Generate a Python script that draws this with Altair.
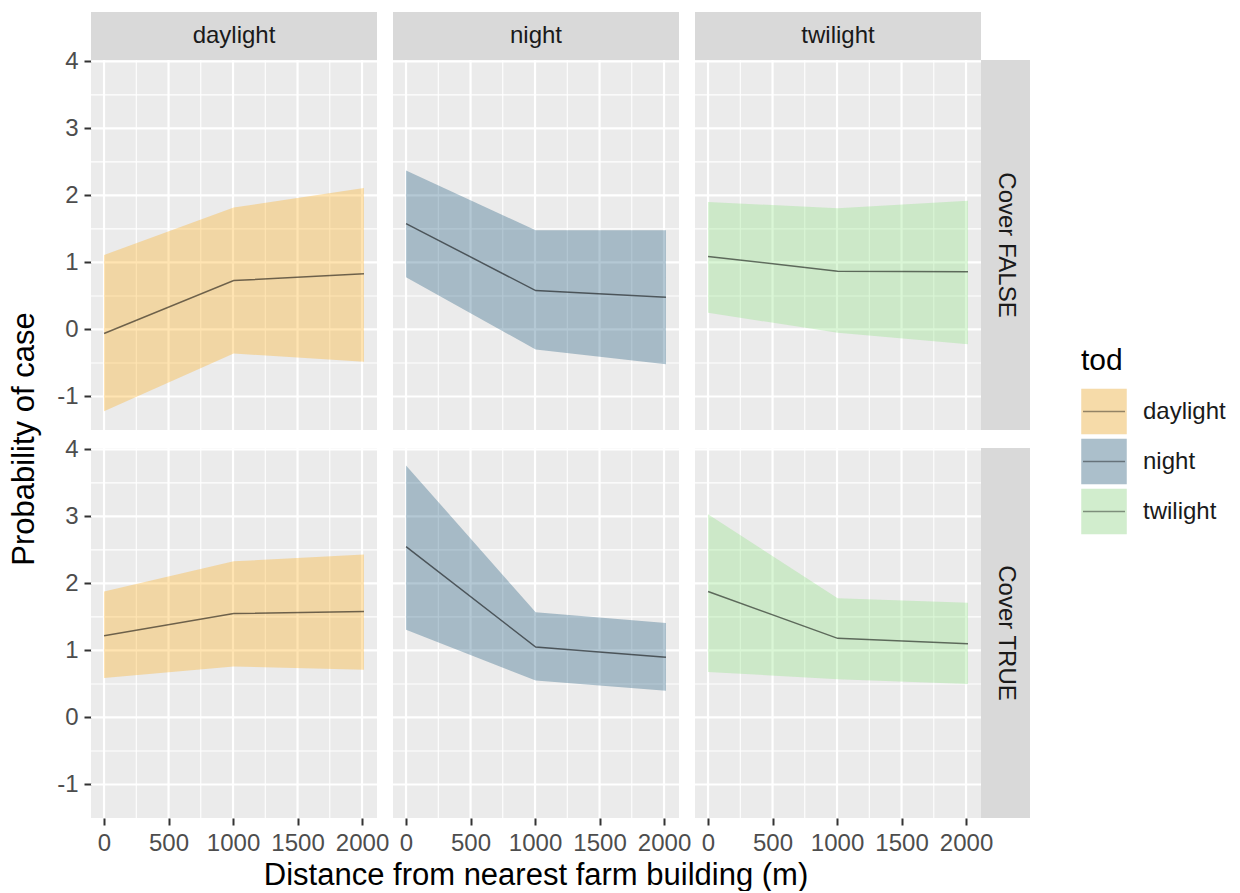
import altair as alt
import pandas as pd

FONT = "Liberation Sans"

tods = ["daylight", "night", "twilight"]
covers = ["FALSE", "TRUE"]
cover_labels = ["Cover FALSE", "Cover TRUE"]
distance = [0, 1005, 2015]

# Cover FALSE
fit_F_daylight = [-0.06, 0.73, 0.83]
low_F_daylight = [-1.22, -0.36, -0.48]
upp_F_daylight = [1.11, 1.82, 2.11]
fit_F_night = [1.58, 0.58, 0.48]
low_F_night = [0.78, -0.30, -0.52]
upp_F_night = [2.37, 1.48, 1.48]
fit_F_twilight = [1.09, 0.87, 0.86]
low_F_twilight = [0.25, -0.05, -0.22]
upp_F_twilight = [1.90, 1.81, 1.92]
# Cover TRUE
fit_T_daylight = [1.22, 1.55, 1.58]
low_T_daylight = [0.59, 0.76, 0.71]
upp_T_daylight = [1.88, 2.33, 2.43]
fit_T_night = [2.55, 1.05, 0.90]
low_T_night = [1.31, 0.55, 0.40]
upp_T_night = [3.76, 1.57, 1.41]
fit_T_twilight = [1.88, 1.18, 1.10]
low_T_twilight = [0.68, 0.57, 0.50]
upp_T_twilight = [3.03, 1.78, 1.71]

x_ticks = [0, 500, 1000, 1500, 2000]
x_minor = [250, 750, 1250, 1750]
y_ticks = [-1, 0, 1, 2, 3, 4]
y_minor = [-0.5, 0.5, 1.5, 2.5, 3.5]
x_domain = [-101, 2116]
y_domain = [-1.5, 4.02]

fill_colors = ["#FFA500", "#054870", "#84E176"]

series = {
    ("FALSE", "daylight"): (fit_F_daylight, low_F_daylight, upp_F_daylight),
    ("FALSE", "night"): (fit_F_night, low_F_night, upp_F_night),
    ("FALSE", "twilight"): (fit_F_twilight, low_F_twilight, upp_F_twilight),
    ("TRUE", "daylight"): (fit_T_daylight, low_T_daylight, upp_T_daylight),
    ("TRUE", "night"): (fit_T_night, low_T_night, upp_T_night),
    ("TRUE", "twilight"): (fit_T_twilight, low_T_twilight, upp_T_twilight),
}
rows = []
for (cv, td), (f, lo, up) in series.items():
    for i, xv in enumerate(distance):
        rows.append({"cover": cv, "tod": td, "x": xv, "fit": f[i], "lower": lo[i], "upper": up[i]})
df = pd.DataFrame(rows)

W, H = 286, 370
HSP = 16
VSP = 18           # visible gap between panel rows
LABEL_OVERHANG = 13  # the top "4" label of the lower row sticks up into the gap
STRIP = 48
RSTRIP = 49
color_scale = alt.Scale(domain=tods, range=fill_colors)
x_scale = alt.Scale(domain=x_domain, nice=False, zero=False)
y_scale = alt.Scale(domain=y_domain, nice=False, zero=False)
label_expr = "'' + datum.value"


def panel(ri, ci):
    cv, td = covers[ri], tods[ci]
    if ri == 1:
        xaxis = alt.Axis(values=x_ticks, grid=False, title=None, labelExpr=label_expr,
                         labelOverlap=False, labelFlush=False)
    else:
        xaxis = None
    if ci == 0:
        yaxis = alt.Axis(values=y_ticks, grid=False, title=None, labelExpr=label_expr,
                         labelOverlap=False, labelFlush=False)
    else:
        yaxis = None

    def X(f):
        return alt.X(f, scale=x_scale, axis=xaxis, title=None)

    def Y(f):
        return alt.Y(f, scale=y_scale, axis=yaxis, title=None)

    base = alt.Chart(df).transform_filter((alt.datum.cover == cv) & (alt.datum.tod == td))
    vmin = alt.Chart(pd.DataFrame({"v": x_minor})).mark_rule(color="white", strokeWidth=1.1).encode(x=X("v:Q"))
    hmin = alt.Chart(pd.DataFrame({"v": y_minor})).mark_rule(color="white", strokeWidth=1.1).encode(y=Y("v:Q"))
    vmaj = alt.Chart(pd.DataFrame({"v": x_ticks})).mark_rule(color="white", strokeWidth=2.2).encode(x=X("v:Q"))
    hmaj = alt.Chart(pd.DataFrame({"v": y_ticks})).mark_rule(color="white", strokeWidth=2.2).encode(y=Y("v:Q"))
    area = base.mark_area(opacity=0.3).encode(
        x=X("x:Q"), y=Y("lower:Q"), y2="upper:Q",
        color=alt.Color("tod:N", scale=color_scale, legend=None))
    line = base.mark_line(color="black", opacity=0.55, strokeWidth=1.5).encode(x=X("x:Q"), y=Y("fit:Q"))
    layers = [vmin, hmin, vmaj, hmaj, area, line]

    if ri == 0:
        sdf = pd.DataFrame({"label": [td]})
        layers.append(alt.Chart(sdf).mark_rect(color="#D9D9D9").encode(
            x=alt.value(0), x2=alt.value(W), y=alt.value(-STRIP), y2=alt.value(0)))
        layers.append(alt.Chart(sdf).mark_text(font=FONT, fontSize=24, color="#1A1A1A").encode(
            x=alt.value(W / 2), y=alt.value(-STRIP / 2), text="label:N"))
    if ci == 2:
        cdf = pd.DataFrame({"label": [cover_labels[ri]]})
        layers.append(alt.Chart(cdf).mark_rect(color="#D9D9D9").encode(
            x=alt.value(W), x2=alt.value(W + RSTRIP), y=alt.value(0), y2=alt.value(H)))
        layers.append(alt.Chart(cdf).mark_text(font=FONT, fontSize=24, color="#1A1A1A", angle=90).encode(
            x=alt.value(W + RSTRIP / 2), y=alt.value(H / 2), text="label:N"))

    return alt.layer(*layers).properties(
        width=W, height=H, view=alt.ViewBackground(fill="#EBEBEB", stroke=None))


top = alt.hconcat(panel(0, 0), panel(0, 1), panel(0, 2), spacing=HSP, bounds="flush")
bottom = alt.hconcat(panel(1, 0), panel(1, 1), panel(1, 2), spacing=HSP, bounds="flush")
panels = alt.vconcat(top, bottom, spacing=VSP - LABEL_OVERHANG)

GRID_W = 3 * W + 2 * HSP
xtitle = alt.Chart(pd.DataFrame({"label": ["Distance from nearest farm building (m)"]})).mark_text(
    font=FONT, fontSize=31, color="black").encode(
    x=alt.value(GRID_W / 2), y=alt.value(21), text="label:N").properties(
    width=GRID_W, height=30, view=alt.ViewBackground(fill=None, stroke=None))
grid = alt.vconcat(panels, xtitle, spacing=0)

PANELS_H = 2 * H + VSP
ytitle = alt.Chart(pd.DataFrame({"label": ["Probability of case"]})).mark_text(
    font=FONT, fontSize=31, color="black", angle=270).encode(
    x=alt.value(17), y=alt.value(PANELS_H / 2), text="label:N").properties(
    width=30, height=PANELS_H, view=alt.ViewBackground(fill=None, stroke=None))

LX = 35  # legend offset from right strip
leg_df = pd.DataFrame({"tod": tods})
leg_y = alt.Y("tod:N", scale=alt.Scale(type="point", domain=tods, range=[351.5, 451.5], padding=0), axis=None)
key_bg = alt.Chart(leg_df).mark_point(shape="square", filled=True, size=2070, color="#F2F2F2", opacity=1).encode(
    x=alt.value(LX + 23), y=leg_y)
key = alt.Chart(leg_df).mark_point(shape="square", filled=True, size=2070, opacity=0.3).encode(
    x=alt.value(LX + 23), y=leg_y, color=alt.Color("tod:N", scale=color_scale, legend=None))
key_line = alt.Chart(leg_df).mark_rule(color="black", opacity=0.4, strokeWidth=1.5).encode(
    x=alt.value(LX + 2), x2=alt.value(LX + 44), y=leg_y)
key_lab = alt.Chart(leg_df).mark_text(font=FONT, fontSize=24, color="#1A1A1A", align="left").encode(
    x=alt.value(LX + 62), y=leg_y, text="tod:N")
leg_title = alt.Chart(pd.DataFrame({"label": ["tod"]})).mark_text(
    font=FONT, fontSize=30, color="black", align="left", baseline="alphabetic").encode(
    x=alt.value(LX), y=alt.value(310), text="label:N")
legend = alt.layer(key_bg, key, key_line, key_lab, leg_title).properties(
    width=170, height=PANELS_H, view=alt.ViewBackground(fill=None, stroke=None))

chart = alt.hconcat(ytitle, grid, legend, spacing=16).properties(
    padding={"left": 0, "top": 4, "right": 0, "bottom": 0}
).configure(
    font=FONT, background="white"
).configure_view(stroke=None).configure_axis(
    labelFont=FONT, labelFontSize=24, labelColor="#4D4D4D",
    tickColor="#333333", tickSize=7, tickWidth=2, domain=False, labelPadding=6,
)

chart.save("out.html", embed_options={"renderer": "svg", "actions": False})
